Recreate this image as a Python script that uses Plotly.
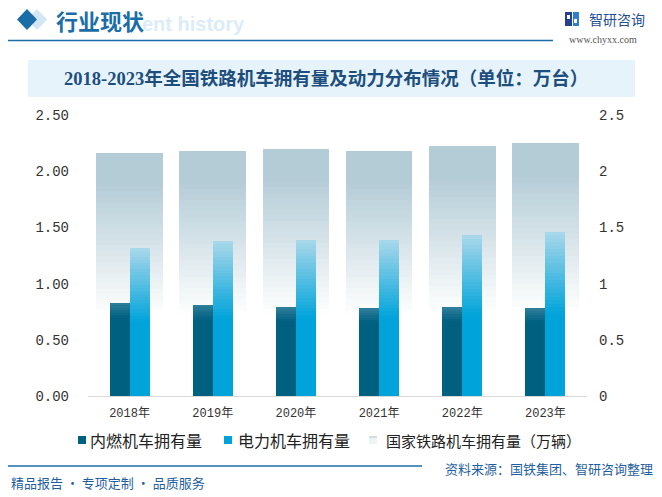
import plotly.graph_objects as go
import numpy as np

# ---------------- data ----------------
years = ["2018年", "2019年", "2020年", "2021年", "2022年", "2023年"]
diesel = [0.83, 0.81, 0.79, 0.78, 0.79, 0.78]      # 内燃机车拥有量
electric = [1.32, 1.38, 1.39, 1.39, 1.43, 1.46]    # 电力机车拥有量
total = [2.16, 2.18, 2.20, 2.18, 2.22, 2.25]       # 国家铁路机车拥有量（万辆）
tick_vals = [0, 0.5, 1, 1.5, 2, 2.5]
left_ticks = ["0.00", "0.50", "1.00", "1.50", "2.00", "2.50"]
right_ticks = ["0", "0.5", "1", "1.5", "2", "2.5"]
series_names = ["内燃机车拥有量", "电力机车拥有量", "国家铁路机车拥有量（万辆）"]

W, H = 662, 497
L, R, T, B = 88, 75, 115, 101
PW, PH = W - L - R, H - T - B


def xp(px):
    return (px - L) / PW


def yp(py):
    return (H - B - py) / PH


def lerp(c1, c2, t):
    t = max(0.0, min(1.0, t))
    return tuple(int(round(a + (b - a) * t)) for a, b in zip(c1, c2))


def rgb(c, a=1.0):
    return f"rgba({c[0]},{c[1]},{c[2]},{a:.3f})"


fig = go.Figure()


def add_gradient(values, t_solid, n, color_fn, yaxis, width, offset, name,
                 solid_color=None):
    v = np.array(values, dtype=float)
    segs = []
    if solid_color is not None and t_solid > 0:
        segs.append((0.0, t_solid, solid_color))
    edges = np.linspace(t_solid, 1.0, n + 1)
    for i in range(n):
        tm = (edges[i] + edges[i + 1]) / 2
        segs.append((edges[i], edges[i + 1], color_fn(tm)))
    for a, b, col in segs:
        fig.add_trace(go.Bar(
            x=years, y=v * (b - a), base=v * a,
            width=width, offset=offset, yaxis=yaxis,
            marker=dict(color=col, line=dict(width=0)),
            name=name, showlegend=False, hoverinfo="skip"))


# gray total bars (gradient fading to white at bottom)
GRAY = (179, 204, 214)
add_gradient(total, 0.33, 30,
             lambda t: rgb(GRAY, max(0.0, min(1.0, (t - 0.33) / 0.55))),
             "y", 0.8, -0.4, series_names[2])

# diesel bars
D0, D1 = (0, 96, 128), (48, 126, 156)
add_gradient(diesel, 0.84, 6, lambda t: rgb(lerp(D0, D1, (t - 0.84) / 0.16)),
             "y2", 0.24, -0.24, series_names[0], solid_color=rgb(D0))

# electric bars
E0, E1 = (0, 164, 219), (170, 216, 234)
add_gradient(electric, 0.5, 24, lambda t: rgb(lerp(E0, E1, (t - 0.5) / 0.5)),
             "y2", 0.24, 0.0, series_names[1], solid_color=rgb(E0))

NUMFONT = "Liberation Mono, Noto Sans CJK SC"
CJK = "Noto Sans CJK SC"

fig.update_layout(
    width=W, height=H,
    margin=dict(l=L, r=R, t=T, b=B, autoexpand=False),
    paper_bgcolor="white", plot_bgcolor="white",
    barmode="overlay",
    bargap=0,
    showlegend=False,
    xaxis=dict(type="category", showline=True, linecolor="#d9d9d9", linewidth=1,
               showgrid=False, ticks="", zeroline=False, ticklabelstandoff=6,
               tickfont=dict(family=NUMFONT, size=12, color="#333333")),
    yaxis=dict(range=[0, 2.5], side="right", tickvals=tick_vals, ticktext=right_ticks,
               showgrid=False, zeroline=False, showline=False, ticks="",
               ticklabelstandoff=11,
               tickfont=dict(family=NUMFONT, size=14, color="#333333")),
    yaxis2=dict(range=[0, 2.5], side="left", overlaying="y", tickvals=tick_vals,
                ticktext=left_ticks, showgrid=False, zeroline=False, showline=False,
                ticks="", ticklabelstandoff=18,
                tickfont=dict(family=NUMFONT, size=14, color="#333333")),
    font=dict(family=CJK),
)

shapes = []
annotations = []


def path_px(points):
    return "M " + " L ".join(f"{xp(x):.5f},{yp(y):.5f}" for x, y in points) + " Z"


def rect_px(x0, y0, x1, y1, color, layer="above"):
    return dict(type="rect", xref="paper", yref="paper",
                x0=xp(x0), x1=xp(x1), y0=yp(y1), y1=yp(y0),
                fillcolor=color, line=dict(width=0), layer=layer)


# header
shapes.append(dict(type="path", xref="paper", yref="paper",
                   path=path_px([(37, 9), (47, 19.5), (37, 30), (27, 19.5)]),
                   fillcolor="#d3e6f4", line=dict(width=0), layer="above"))
shapes.append(dict(type="path", xref="paper", yref="paper",
                   path=path_px([(27, 9), (37, 19.5), (27, 30), (17, 19.5)]),
                   fillcolor="#1a6ea8", line=dict(width=0), layer="above"))
annotations.append(dict(text="ent history", xref="paper", yref="paper",
                        x=xp(247), y=yp(24), xanchor="right", yanchor="middle",
                        showarrow=False,
                        font=dict(family="Liberation Sans", size=20, color="#dcecf8",
                                  weight="bold")))
annotations.append(dict(text="行业现状", xref="paper", yref="paper",
                        x=xp(54), y=yp(20), xanchor="left", yanchor="middle",
                        showarrow=False,
                        font=dict(family=CJK, size=22, color="#1a6ea8", weight="bold")))
shapes.append(dict(type="line", xref="paper", yref="paper",
                   x0=xp(8), x1=xp(553), y0=yp(40.5), y1=yp(40.5),
                   line=dict(color="#1a6ea8", width=1.5)))

# logo
shapes.append(rect_px(565, 12, 572, 26, "#24408e"))
shapes.append(rect_px(573, 12, 579, 26, "#2f7fd0"))
shapes.append(rect_px(567, 15, 570, 19, "white"))
shapes.append(rect_px(574, 19, 577, 23, "white"))
annotations.append(dict(text="智研咨询", xref="paper", yref="paper",
                        x=xp(587), y=yp(19), xanchor="left", yanchor="middle",
                        showarrow=False,
                        font=dict(family=CJK, size=14, color="#1f4f95")))
annotations.append(dict(text="www.chyxx.com", xref="paper", yref="paper",
                        x=xp(603), y=yp(39), xanchor="center", yanchor="middle",
                        showarrow=False,
                        font=dict(family="Liberation Serif", size=10, color="#555555")))

# title band
shapes.append(rect_px(28, 60, 635, 97, "#e6f3fb", layer="below"))
annotations.append(dict(text="2018-2023年全国铁路机车拥有量及动力分布情况（单位：万台）",
                        xref="paper", yref="paper", x=xp(326), y=yp(78.5),
                        xanchor="center", yanchor="middle", showarrow=False,
                        font=dict(family="Liberation Serif, Noto Sans CJK SC", size=18.5,
                                  color="#1d4e7e", weight="bold")))

# manual legend
leg_y = 440
legend_items = [
    (series_names[0], 78, 88, rgb(D0), 16),
    (series_names[1], 224, 236, rgb(E0), 16),
    (series_names[2], 369, 384, "#eef3f6", 15),
]
for name, sx, tx, col, fs in legend_items:
    shapes.append(rect_px(sx, leg_y - 4, sx + 8, leg_y + 4, col))
    annotations.append(dict(text=name, xref="paper", yref="paper",
                            x=xp(tx), y=yp(leg_y), xanchor="left", yanchor="middle",
                            showarrow=False,
                            font=dict(family=CJK, size=fs, color="#222222")))
shapes.append(rect_px(369, leg_y - 4, 377, leg_y - 2, "#d2e0e6"))

# footer
shapes.append(dict(type="line", xref="paper", yref="paper",
                   x0=xp(8), x1=xp(422), y0=yp(466), y1=yp(466),
                   line=dict(color="#1a6ea8", width=1.5)))
annotations.append(dict(text="精品报告 · 专项定制 · 品质服务", xref="paper", yref="paper",
                        x=xp(9), y=yp(482), xanchor="left", yanchor="middle",
                        showarrow=False,
                        font=dict(family=CJK, size=13, color="#1f5f9f")))
annotations.append(dict(text="资料来源：国铁集团、智研咨询整理", xref="paper", yref="paper",
                        x=xp(655), y=yp(468), xanchor="right", yanchor="middle",
                        showarrow=False,
                        font=dict(family=CJK, size=13, color="#1f5f9f")))

fig.update_layout(shapes=shapes, annotations=annotations)
fig.write_html("out.html", config={"displayModeBar": False},
               post_script="document.body.style.margin='0';document.body.style.overflow='hidden';")
